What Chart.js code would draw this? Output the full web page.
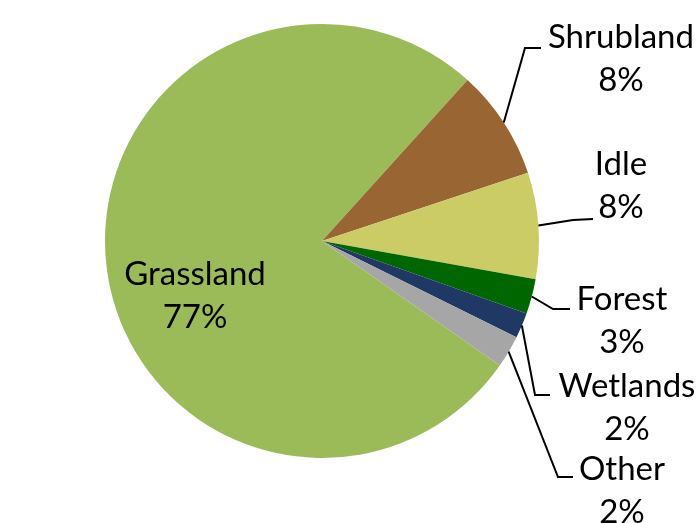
<!DOCTYPE html>
<html>
<head>
<meta charset="utf-8">
<script src="https://cdn.jsdelivr.net/npm/chart.js@4"></script>
<style>
  html, body { margin: 0; padding: 0; background: #fff; }
  canvas { display: block; }
</style>
</head>
<body>
<canvas id="landChart" width="696" height="523"></canvas>
<script>
const categories = ['Grassland', 'Shrubland', 'Idle', 'Forest', 'Wetlands', 'Other'];
const shares = [76.9, 8.2, 7.9, 2.6, 1.9, 2.4];
const colors = ['#9BBB59', '#996633', '#CCCC66', '#006600', '#1F3864', '#A6A6A6'];

// label placement, relative to the pie centre: [elbow, line end, text x, first baseline]
const labelLayout = [
    { inside: true, x: -127, y: 44 },
    { elbow: [203, -193], end: [219, -193], x: 299, y: -193 },
    { elbow: [251, -21], end: [271, -22], x: 299, y: -66 },
    { elbow: [231, 68], end: [248, 68], x: 300, y: 69 },
    { elbow: [213, 154], end: [228, 154], x: 305, y: 156 },
    { elbow: [236, 236], end: [251, 236], x: 300, y: 239 }
];
const lineGap = 43;
const labelFont = '33px Lato';

const pieLabels = {
    id: 'pieLabels',
    afterDatasetsDraw(chart) {
        const ctx = chart.ctx;
        const total = shares.reduce((a, b) => a + b, 0);
        chart.getDatasetMeta(0).data.forEach((arc, i) => {
            const p = arc.getProps(['x', 'y', 'startAngle', 'endAngle', 'outerRadius'], true);
            const mid = (p.startAngle + p.endAngle) / 2;
            const lay = labelLayout[i];
            ctx.save();
            if (!lay.inside) {
                ctx.beginPath();
                ctx.moveTo(p.x + Math.cos(mid) * p.outerRadius, p.y + Math.sin(mid) * p.outerRadius);
                ctx.lineTo(p.x + lay.elbow[0], p.y + lay.elbow[1]);
                ctx.lineTo(p.x + lay.end[0], p.y + lay.end[1]);
                ctx.strokeStyle = '#000';
                ctx.lineWidth = 2;
                ctx.stroke();
            }
            ctx.fillStyle = '#000';
            ctx.font = labelFont;
            ctx.textAlign = 'center';
            ctx.textBaseline = 'alphabetic';
            ctx.fillText(categories[i], p.x + lay.x, p.y + lay.y);
            ctx.fillText(Math.round(shares[i] / total * 100) + '%', p.x + lay.x, p.y + lay.y + lineGap);
            ctx.restore();
        });
    }
};

new Chart(document.getElementById('landChart').getContext('2d'), {
    type: 'pie',
    data: {
        labels: categories,
        datasets: [{
            data: shares,
            backgroundColor: colors,
            borderWidth: 0
        }]
    },
    options: {
        responsive: false,
        animation: false,
        rotation: 125,
        layout: { padding: { left: 105, right: 157, top: 24, bottom: 65 } },
        plugins: {
            legend: { display: false },
            tooltip: { enabled: false }
        }
    },
    plugins: [pieLabels]
});
</script>
</body>
</html>
